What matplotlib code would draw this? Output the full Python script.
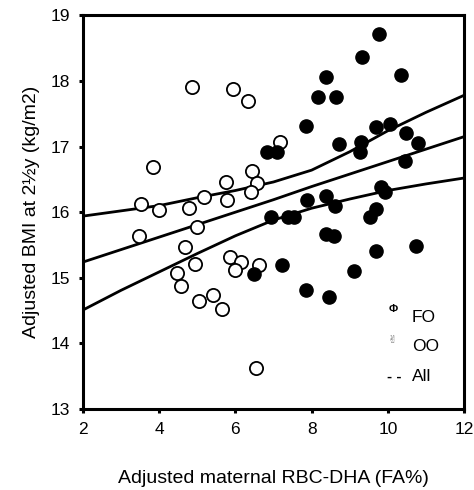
import matplotlib
matplotlib.use("Agg")
import matplotlib.pyplot as plt

plt.rcParams["font.family"] = ["Liberation Sans", "DejaVu Sans"]

# FO group (filled circles): maternal RBC-DHA (FA%) vs adjusted BMI
fo_dha = [9.77, 9.31, 8.38, 10.34, 8.18, 8.64, 7.84, 9.68, 10.07, 10.47, 10.78, 8.73,
          9.29, 9.28, 10.45, 6.84, 7.10, 7.88, 8.38, 8.62, 6.93, 7.37, 7.55, 9.82,
          9.93, 9.70, 9.53, 8.38, 8.58, 9.68, 10.73, 7.21, 9.12, 7.86, 8.45, 6.49]
fo_bmi = [18.72, 18.37, 18.06, 18.09, 17.76, 17.76, 17.31, 17.30, 17.34, 17.20, 17.06, 17.04,
          17.07, 16.92, 16.78, 16.92, 16.92, 16.18, 16.25, 16.09, 15.93, 15.92, 15.92, 16.38,
          16.30, 16.05, 15.92, 15.67, 15.63, 15.41, 15.48, 15.19, 15.10, 14.82, 14.71, 15.06]

# OO group (open circles)
oo_dha = [4.85, 5.93, 6.32, 7.17, 3.83, 3.52, 4.00, 4.79, 5.17, 5.75, 5.79, 6.44,
          6.57, 6.42, 3.48, 4.99, 4.67, 4.93, 4.46, 4.56, 5.04, 5.40, 5.65, 5.85,
          6.14, 5.98, 6.61, 6.55]
oo_bmi = [17.91, 17.88, 17.69, 17.07, 16.69, 16.13, 16.03, 16.06, 16.23, 16.46, 16.18, 16.62,
          16.44, 16.31, 15.63, 15.78, 15.47, 15.21, 15.08, 14.88, 14.64, 14.74, 14.53, 15.32,
          15.24, 15.12, 15.19, 13.62]

# Regression line for all subjects, with its confidence band
fit_x = [2, 3, 4, 5, 6, 7, 8, 9, 10, 11, 12]
fit_mid = [15.24, 15.43, 15.62, 15.81, 16.00, 16.19, 16.39, 16.58, 16.77, 16.96, 17.15]
fit_upper = [15.94, 16.02, 16.10, 16.22, 16.33, 16.46, 16.64, 16.92, 17.24, 17.52, 17.78]
fit_lower = [14.51, 14.81, 15.09, 15.37, 15.64, 15.88, 16.06, 16.20, 16.33, 16.43, 16.52]

x_ticks = [2, 4, 6, 8, 10, 12]
y_ticks = [13, 14, 15, 16, 17, 18, 19]

fig = plt.figure(figsize=(4.74, 4.90), dpi=100)
ax = fig.add_axes([0.175, 0.165, 0.804, 0.804])

for ys in (fit_mid, fit_upper, fit_lower):
    ax.plot(fit_x, ys, color="black", linewidth=2.0, solid_capstyle="butt", zorder=2)

ax.plot(oo_dha, oo_bmi, linestyle="none", marker="o", markersize=9.5,
        markerfacecolor="white", markeredgecolor="black", markeredgewidth=1.3, zorder=3)
ax.plot(fo_dha, fo_bmi, linestyle="none", marker="o", markersize=9.5,
        markerfacecolor="black", markeredgecolor="black", zorder=4)

# Legend, drawn as text the way it appears in the figure
ax.text(10.14, 14.53, "Φ", fontsize=8, ha="center", va="center", fontweight="bold")
ax.text(10.63, 14.40, "FO", fontsize=12.5, ha="left", va="center")
ax.text(10.12, 14.05, "✌", fontsize=8, ha="center", va="center", color="#777777",
        family=["DejaVu Sans"])
ax.text(10.63, 13.95, "OO", fontsize=12.5, ha="left", va="center")
ax.text(10.17, 13.49, "- -", fontsize=11, ha="center", va="center", fontweight="bold")
ax.text(10.63, 13.49, "All", fontsize=12.5, ha="left", va="center")

ax.set_xlim(2, 12)
ax.set_ylim(13, 19)
ax.set_xticks(x_ticks)
ax.set_yticks(y_ticks)
ax.tick_params(direction="out", length=3, width=2.2, labelsize=12.5, pad=6)

for side in ("left", "bottom", "top", "right"):
    ax.spines[side].set_linewidth(2.2)

ax.set_xlabel("Adjusted maternal RBC-DHA (FA%)", fontsize=14, labelpad=24)
ax.set_ylabel("Adjusted BMI at 2½y (kg/m2)", fontsize=14, labelpad=8)

fig.savefig("out.png", dpi=100)
